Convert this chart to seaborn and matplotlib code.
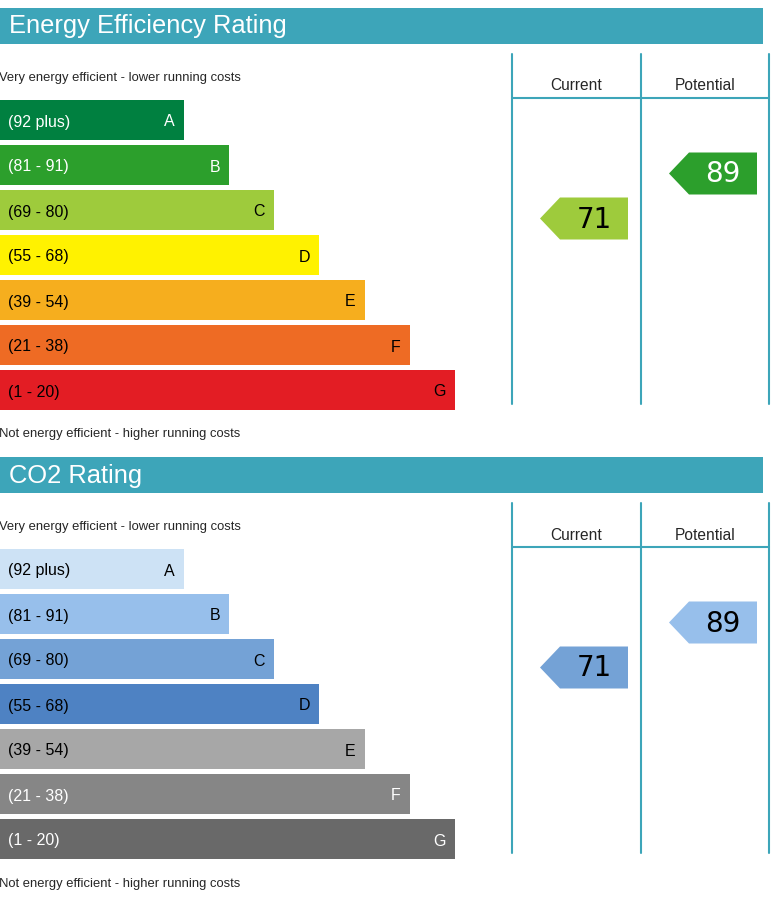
import matplotlib
matplotlib.use("Agg")
import matplotlib.pyplot as plt
from matplotlib.patches import Polygon, Rectangle
import seaborn as sns
import pandas as pd

# data
bands = ["A", "B", "C", "D", "E", "F", "G"]
band_ranges = ["(92 plus)", "(81 - 91)", "(69 - 80)", "(55 - 68)",
               "(39 - 54)", "(21 - 38)", "(1 - 20)"]
band_lows = [92, 81, 69, 55, 39, 21, 1]
band_len = [4, 5, 6, 7, 8, 9, 10]  # relative bar lengths (steps)

energy_colors = ["#008040", "#2c9f2c", "#9ecb3c", "#fff200",
                 "#f6ae1e", "#ee6b24", "#e31d24"]
energy_text = ["white", "white", "black", "black", "black", "black", "black"]
co2_colors = ["#cde2f5", "#97bfeb", "#74a2d6", "#4e82c3",
              "#a7a7a7", "#868686", "#696969"]
co2_text = ["black", "black", "black", "black", "black", "white", "white"]

energy_current, energy_potential = 71, 89
co2_current, co2_potential = 71, 89

titles = ["Energy Efficiency Rating", "CO2 Rating"]
top_note = "Very energy efficient - lower running costs"
bottom_note = "Not energy efficient - higher running costs"
columns = ["Current", "Potential"]

TEAL = "#3da5b9"
W, H = 773, 919
STEP = 45.2          # px per bar step
BASE = 3 / STEP      # small extra bar margin

sns.set_theme(style="white")
plt.rcParams["font.family"] = ["Liberation Sans", "DejaVu Sans"]

fig = plt.figure(figsize=(W / 100, H / 100), dpi=100)
over = fig.add_axes([0, 0, 1, 1])
over.set_xlim(0, W)
over.set_ylim(H, 0)
over.axis("off")


def band_of(value):
    return next(i for i, lo in enumerate(band_lows) if value >= lo)


def draw_arrow(y0, right, value, colors, text_colors):
    idx = band_of(value)
    top = y0 + 100 + idx * 45 + 7.5
    bottom = top + 42
    left = right - 68
    tip = left - 20
    over.add_patch(Polygon([(tip, (top + bottom) / 2), (left, top), (right, top),
                            (right, bottom), (left, bottom)],
                           closed=True, color=colors[idx], lw=0))
    over.text((left + right) / 2, bottom - 12, str(value), ha="center",
              va="baseline", fontsize=20, color=text_colors[idx],
              family="DejaVu Sans")


def draw_panel(y0, title, colors, text_colors, current, potential):
    over.add_patch(Rectangle((0, y0 + 8), 763, 36, color=TEAL, lw=0))
    over.text(9, y0 + 33.5, title, color="white", fontsize=18.4, va="baseline")
    over.text(-1, y0 + 81, top_note, fontsize=9.4, va="baseline")
    over.text(-1, y0 + 437.5, bottom_note, fontsize=9.4, va="baseline")

    for x in [512, 641, 769]:
        over.plot([x, x], [y0 + 54, y0 + 404], color=TEAL, lw=1.5)
    over.plot([512, 769], [y0 + 98, y0 + 98], color=TEAL, lw=1.5)
    over.text(576.5, y0 + 90.5, columns[0], ha="center", va="baseline", fontsize=11.2)
    over.text(705, y0 + 90.5, columns[1], ha="center", va="baseline", fontsize=11.2)

    bx = fig.add_axes([0, 1 - (y0 + 412.5) / H, 1, 315 / H])
    df = pd.DataFrame({"band": bands, "length": [v + BASE for v in band_len]})
    sns.barplot(data=df, x="length", y="band", hue="band", palette=colors,
                orient="h", width=40 / 45, saturation=1, linewidth=0,
                legend=False, ax=bx)
    bx.set_xlim(0, W / STEP)
    bx.set_ylim(6.5, -0.5)
    bx.axis("off")
    bx.patch.set_alpha(0)
    for i, band in enumerate(bands):
        bx.text(8 / STEP, i + 6.5 / 45, band_ranges[i], color=text_colors[i],
                fontsize=11.5, va="baseline")
        bx.text(band_len[i] + BASE - 9 / STEP, i + 6.5 / 45, band,
                color=text_colors[i], fontsize=11.5, va="baseline", ha="right")

    draw_arrow(y0, 628, current, colors, text_colors)
    draw_arrow(y0, 757, potential, colors, text_colors)


draw_panel(0, titles[0], energy_colors, energy_text, energy_current, energy_potential)
draw_panel(449, titles[1], co2_colors, co2_text, co2_current, co2_potential)

fig.savefig("out.png", dpi=100)
